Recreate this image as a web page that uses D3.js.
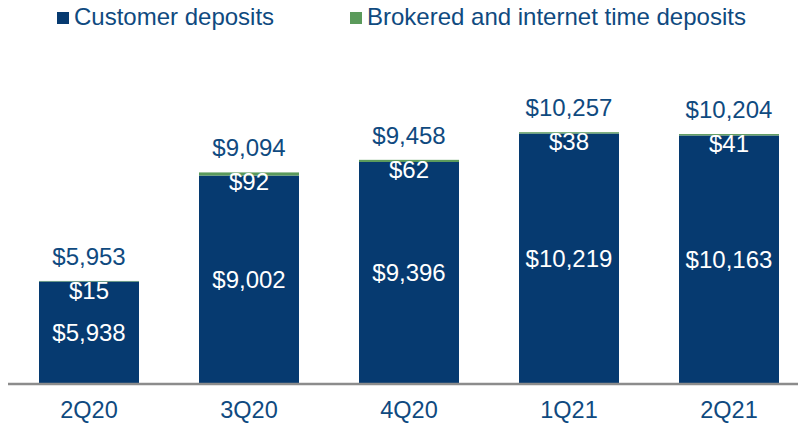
<!DOCTYPE html>
<html>
<head>
<meta charset="utf-8">
<script src="https://cdn.jsdelivr.net/npm/d3@7"></script>
<style>
  body { margin: 0; background: #fff; }
  text { font-family: "Liberation Sans", Arial, sans-serif; }
</style>
</head>
<body>
<div id="chart"></div>
<script>
var quarters = ["2Q20", "3Q20", "4Q20", "1Q21", "2Q21"];
var customerDeposits = [5938, 9002, 9396, 10219, 10163];
var brokeredDeposits = [15, 92, 62, 38, 41];
var totals = [5953, 9094, 9458, 10257, 10204];
var seriesNames = ["Customer deposits", "Brokered and internet time deposits"];

var svgWidth = 798;
var svgHeight = 425;
var blue = "#063a70";
var green = "#5b9a5b";
var textBlue = "#0f4a80";

var margin = { top: 72, right: 20, bottom: 42, left: 8 };
var width = svgWidth - margin.left - margin.right;
var height = svgHeight - margin.top - margin.bottom;

var svg = d3.select("#chart")
  .append("svg")
  .attr("width", svgWidth)
  .attr("height", svgHeight);

var chartGroup = svg.append("g")
  .attr("transform", `translate(${margin.left}, ${margin.top})`);

var data = quarters.map((q, i) => ({
  q: q,
  cust: customerDeposits[i],
  brok: brokeredDeposits[i],
  total: totals[i]
}));

// x band scale, bars ~100px wide, 160px pitch
var xScale = d3.scaleBand()
  .domain(quarters)
  .range([1, 801])
  .paddingInner(0.375)
  .paddingOuter(0.1875);

// y axis does not start at zero in the original
var yScale = d3.scaleLinear()
  .domain([3000, 12000])
  .range([height, 0]);

// customer deposits
chartGroup.selectAll(".cust")
  .data(data)
  .enter()
  .append("rect")
  .attr("class", "cust")
  .attr("x", d => xScale(d.q))
  .attr("width", xScale.bandwidth())
  .attr("y", d => yScale(d.cust))
  .attr("height", d => height - yScale(d.cust))
  .attr("fill", blue);

// brokered sits on top
chartGroup.selectAll(".brok")
  .data(data)
  .enter()
  .append("rect")
  .attr("class", "brok")
  .attr("x", d => xScale(d.q))
  .attr("width", xScale.bandwidth())
  .attr("y", d => yScale(d.cust + d.brok))
  .attr("height", d => yScale(d.cust) - yScale(d.cust + d.brok))
  .attr("fill", green);

// baseline
chartGroup.append("line")
  .attr("x1", 0)
  .attr("x2", svgWidth - margin.left)
  .attr("y1", height + 1)
  .attr("y2", height + 1)
  .attr("stroke", "#8c8c8c")
  .attr("stroke-width", 2.5);

// category labels
chartGroup.selectAll(".cat")
  .data(data)
  .enter()
  .append("text")
  .attr("class", "cat")
  .attr("x", d => xScale(d.q) + xScale.bandwidth() / 2)
  .attr("y", height + 35)
  .attr("text-anchor", "middle")
  .attr("font-size", 23.5)
  .attr("fill", textBlue)
  .text(d => d.q);

var fmt = d3.format(",");

// totals
chartGroup.selectAll(".total")
  .data(data)
  .enter()
  .append("text")
  .attr("class", "total")
  .attr("x", d => xScale(d.q) + xScale.bandwidth() / 2)
  .attr("y", d => yScale(d.total) - 16)
  .attr("text-anchor", "middle")
  .attr("font-size", 24)
  .attr("fill", textBlue)
  .text(d => "$" + fmt(d.total));

// brokered labels (white, just under the top)
chartGroup.selectAll(".brokLabel")
  .data(data)
  .enter()
  .append("text")
  .attr("class", "brokLabel")
  .attr("x", d => xScale(d.q) + xScale.bandwidth() / 2)
  .attr("y", d => yScale(d.total) + 18)
  .attr("text-anchor", "middle")
  .attr("font-size", 24)
  .attr("fill", "#fff")
  .text(d => "$" + fmt(d.brok));

// customer labels, middle of the bar
chartGroup.selectAll(".custLabel")
  .data(data)
  .enter()
  .append("text")
  .attr("class", "custLabel")
  .attr("x", d => xScale(d.q) + xScale.bandwidth() / 2)
  .attr("y", d => (yScale(d.cust) + height) / 2 + 9)
  .attr("text-anchor", "middle")
  .attr("font-size", 24)
  .attr("fill", "#fff")
  .text(d => "$" + fmt(d.cust));

// legend
var legend = svg.append("g");
var legendX = [57, 350];
seriesNames.forEach((name, i) => {
  legend.append("rect")
    .attr("x", legendX[i])
    .attr("y", 12)
    .attr("width", 12)
    .attr("height", 12)
    .attr("fill", i === 0 ? blue : green);
  legend.append("text")
    .attr("x", legendX[i] + 17)
    .attr("y", 25)
    .attr("font-size", 24)
    .attr("fill", textBlue)
    .text(name);
});
</script>
</body>
</html>
